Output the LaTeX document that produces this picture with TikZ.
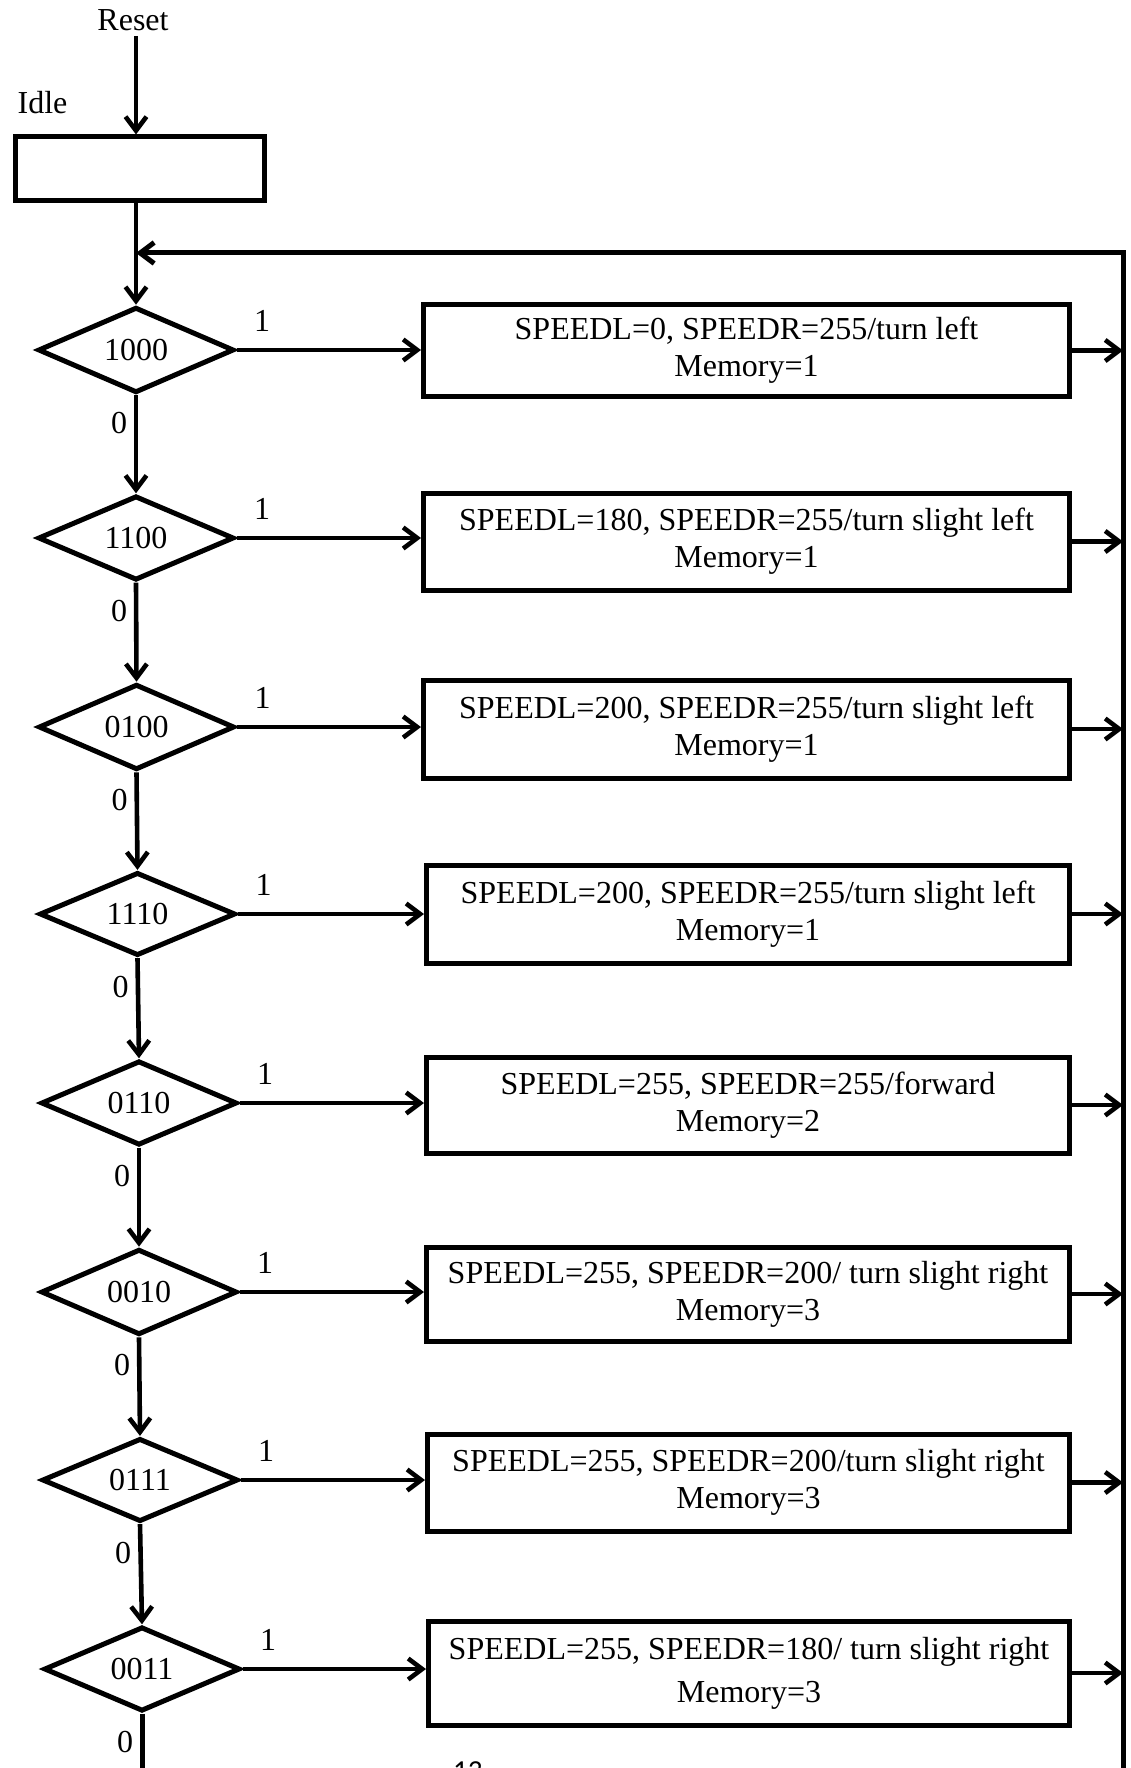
\documentclass[tikz,border=0pt]{standalone}
\usepackage{fontspec}
\setmainfont{Liberation Serif}
\newfontfamily\pagenumfont{Carlito}
\usetikzlibrary{shapes.geometric,arrows.meta,calc}

\begin{document}
\begin{tikzpicture}[x=1pt,y=-1pt,
  every node/.style={font=\fontsize{32}{37}\selectfont},
  wire/.style={line width=5pt},
  flow/.style={line width=4.6pt,-{Straight Barb[length=14pt,width=21pt]}},
  test/.style={draw,diamond,line width=5pt,inner sep=0pt,
    minimum width=196pt,minimum height=82pt},
  action/.style={draw,rectangle,line width=5pt,align=center,inner sep=0pt},
  lbl/.style={inner sep=0pt}
]
\useasboundingbox (0,0) rectangle (1131,1768);

% start of the machine
\node[lbl] (reset) at (133,20) {Reset};
\node[lbl] (idlelbl) at (42.5,102.5) {Idle};
\node[draw,line width=5pt,inner sep=0pt,minimum width=249pt,minimum height=64pt]
  (idle) at (139.5,169) {};

% sensor pattern tests
\node[test] (d1) at (136,350)   {1000};
\node[test] (d2) at (136,538)   {1100};
\node[test] (d3) at (136.5,727) {0100};
\node[test] (d4) at (137.5,914) {1110};
\node[test] (d5) at (139,1103)  {0110};
\node[test] (d6) at (139,1292)  {0010};
\node[test] (d7) at (140,1480)  {0111};
\node[test] (d8) at (142,1669)  {0011};

% motor actions
\node[action,minimum width=646pt,minimum height=91pt] (b1) at (746.5,350.5)
  {SPEEDL=0, SPEEDR=255/turn left\\Memory=1};
\node[action,minimum width=646pt,minimum height=97pt] (b2) at (746.5,541.5)
  {SPEEDL=180, SPEEDR=255/turn slight left\\Memory=1};
\node[action,minimum width=646pt,minimum height=98pt] (b3) at (746.5,729)
  {SPEEDL=200, SPEEDR=255/turn slight left\\Memory=1};
\node[action,minimum width=643pt,minimum height=98pt] (b4) at (748,914)
  {SPEEDL=200, SPEEDR=255/turn slight left\\Memory=1};
\node[action,minimum width=643pt,minimum height=96pt] (b5) at (748,1105)
  {SPEEDL=255, SPEEDR=255/forward\\Memory=2};
\node[action,minimum width=643pt,minimum height=94pt] (b6) at (748,1294)
  {SPEEDL=255, SPEEDR=200/ turn slight right\\Memory=3};
\node[action,minimum width=642pt,minimum height=97pt] (b7) at (748.5,1482.5)
  {SPEEDL=255, SPEEDR=200/turn slight right\\Memory=3};
\node[action,minimum width=641pt,minimum height=104pt,font=\fontsize{32}{43}\selectfont]
  (b8) at (749,1673)
  {SPEEDL=255, SPEEDR=180/ turn slight right\\Memory=3};

% return rail
\coordinate (rtop) at (1123,253);
\coordinate (rbot) at (1123,1780);

% connectors
\draw[flow,shorten <=5pt] (reset.south -| d1.north) -- (d1.north |- idle.north);
\draw[flow] (idle.south -| d1.north) -- (d1.north);
\draw[flow,line width=5pt] (rbot) -- (rtop) -- (d1.north |- rtop);

\foreach \i/\j in {1/2,2/3,3/4,4/5,5/6,6/7,7/8}
  \draw[flow] (d\i.south) -- (d\j.north);
\draw[wire] (d8.south) -- (d8.south |- rbot);

\foreach \i in {1,...,8}{
  \draw[flow] (d\i.east) -- (d\i.east -| b\i.west);
  \draw[flow] (b\i.east) -- (b\i.east -| rtop);
  \node[lbl] (one\i) at ($(d\i.center)+(126,-29)$) {1};
  \node[lbl] (zero\i) at ($(d\i.center)+(-17,73)$) {0};
}

% page number, cut by the lower edge
\node[lbl,anchor=base west,font=\pagenumfont\fontsize{29}{34}\selectfont]
  (pagenum) at (453,1780) {13};
\end{tikzpicture}
\end{document}
